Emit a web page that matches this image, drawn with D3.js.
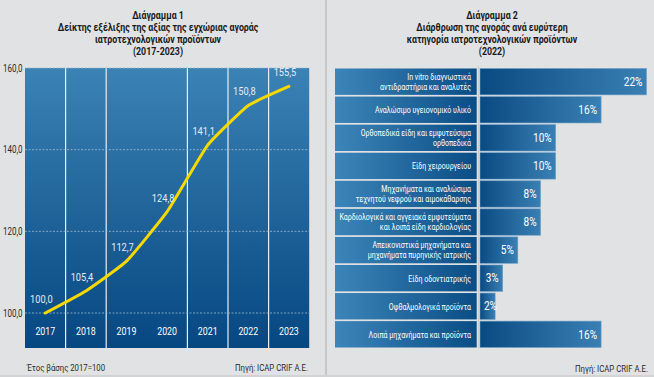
<!DOCTYPE html>
<html>
<head>
<meta charset="utf-8">
<script src="https://cdn.jsdelivr.net/npm/d3@7"></script>
<style>
  body { margin: 0; background: #e1e2e4; }
  svg { display: block; }
  text { font-family: Roboto, "Noto Sans", sans-serif; }
</style>
</head>
<body>
<svg id="chart" width="654" height="377"></svg>
<script>
// chart 1: index of market value (2017=100)
var years = ["2017", "2018", "2019", "2020", "2021", "2022", "2023"];
var indexValues = [100.0, 105.4, 112.7, 124.8, 141.1, 150.8, 155.5];
var yTicks = [100, 120, 140, 160];
// separators between year columns (the one between 2019 and 2020 is absent in the original)
var separatorAfter = ["2017", "2018", "2020", "2021", "2022"];

// chart 2: market breakdown by category (2022)
var categories = [
  ["In vitro διαγνωστικά", "αντιδραστήρια και αναλυτές"],
  ["Αναλώσιμο υγειονομικό υλικό"],
  ["Ορθοπεδικά είδη και εμφυτεύσιμα", "ορθοπεδικά"],
  ["Είδη χειρουργείου"],
  ["Μηχανήματα και αναλώσιμα", "τεχνητού νεφρού και αιμοκάθαρσης"],
  ["Καρδιολογικά και αγγειακά εμφυτεύματα", "και λοιπά είδη καρδιολογίας"],
  ["Απεικονιστικά μηχανήματα και", "μηχανήματα πυρηνικής ιατρικής"],
  ["Είδη οδοντιατρικής"],
  ["Οφθαλμολογικά προϊόντα"],
  ["Λοιπά μηχανήματα και προϊόντα"]
];
var shares = [22, 16, 10, 10, 8, 8, 5, 3, 2, 16];

var title1 = ["Διάγραμμα 1", "Δείκτης εξέλιξης της αξίας της εγχώριας αγοράς", "ιατροτεχνολογικών προϊόντων", "(2017-2023)"];
var title2 = ["Διάγραμμα 2", "Διάρθρωση της αγοράς ανά ευρύτερη", "κατηγορία ιατροτεχνολογικών προϊόντων", "(2022)"];

var svg = d3.select("#chart");
var defs = svg.append("defs");

// the original uses a condensed face; squeeze the text horizontally
function place(sel, fx, fy, sx){
  sel.attr("transform", function(d, i){
    var x = typeof fx === "function" ? fx(d, i) : fx;
    var y = typeof fy === "function" ? fy(d, i) : fy;
    return "translate(" + x + "," + y + ") scale(" + sx + ",1)";
  });
  return sel;
}

function addGradient(id, x2, y2, c1, c2){
  var g = defs.append("linearGradient").attr("id", id)
    .attr("x1", 0).attr("y1", 0).attr("x2", x2).attr("y2", y2);
  g.append("stop").attr("offset", "0%").attr("stop-color", c1);
  g.append("stop").attr("offset", "100%").attr("stop-color", c2);
}
addGradient("plotGrad", 0, 1, "#3b82b5", "#064781");
addGradient("labelGrad", 1, 0, "#3c85b9", "#0a4d85");
addGradient("barGrad", 1, 0, "#0a4a82", "#3a80b4");

// panel divider
svg.append("rect").attr("x", 325).attr("y", 0).attr("width", 2).attr("height", 377).attr("fill", "#c6c7c9");
svg.append("rect").attr("x", 0).attr("y", 375).attr("width", 654).attr("height", 2).attr("fill", "#d2d3d5");

function drawTitle(lines, cx){
  var t = svg.append("g").selectAll("text")
    .data(lines)
    .enter()
    .append("text")
    .attr("dy", ".35em")
    .attr("text-anchor", "middle")
    .attr("font-size", 11)
    .attr("font-weight", "bold")
    .attr("fill", "#1a1a1a")
    .text(String);
  place(t, cx, function(d, i){ return 15 + i * 12.2; }, 0.8);
}
drawTitle(title1, 158);
drawTitle(title2, 492);

// ---------- chart 1 ----------
var x1 = d3.scaleBand().domain(years).range([25, 309.2]).padding(0);
var y1 = d3.scaleLinear().domain([100, 160]).range([313, 68]);
var plotBottom = 348;

svg.append("rect")
  .attr("x", x1.range()[0]).attr("y", y1(160))
  .attr("width", x1.range()[1] - x1.range()[0])
  .attr("height", plotBottom - y1(160))
  .attr("fill", "url(#plotGrad)");

svg.append("g").selectAll("line")
  .data(separatorAfter)
  .enter()
  .append("line")
  .attr("x1", function(d){ return x1(d) + x1.bandwidth(); })
  .attr("x2", function(d){ return x1(d) + x1.bandwidth(); })
  .attr("y1", y1(160)).attr("y2", plotBottom)
  .attr("stroke", "#e8eef4").attr("stroke-width", 1.2);

svg.append("g").selectAll("line")
  .data(yTicks)
  .enter()
  .append("line")
  .attr("x1", x1.range()[0]).attr("x2", x1.range()[1])
  .attr("y1", function(d){ return y1(d); })
  .attr("y2", function(d){ return y1(d); })
  .attr("stroke", "#9ab7d0").attr("stroke-width", 0.8)
  .attr("stroke-dasharray", "2,1.5");

var yLab = svg.append("g").selectAll("text")
  .data(yTicks)
  .enter()
  .append("text")
  .attr("dy", ".35em")
  .attr("text-anchor", "end")
  .attr("font-size", 10)
  .attr("fill", "#2a2a2a")
  .text(function(d){ return d.toFixed(1).replace(".", ","); });
place(yLab, 22.5, function(d){ return y1(d); }, 0.8);

var xLab = svg.append("g").selectAll("text")
  .data(years)
  .enter()
  .append("text")
  .attr("dy", ".35em")
  .attr("text-anchor", "middle")
  .attr("font-size", 11)
  .attr("fill", "#ffffff")
  .text(String);
place(xLab, function(d){ return x1(d) + x1.bandwidth() / 2; }, 331, 0.8);

var line = d3.line()
  .x(function(d, i){ return x1(years[i]) + x1.bandwidth() / 2; })
  .y(function(d){ return y1(d); })
  .curve(d3.curveCardinal.tension(0.6));

svg.append("path")
  .datum(indexValues)
  .attr("d", line)
  .attr("fill", "none")
  .attr("stroke", "#f7d900")
  .attr("stroke-width", 3)
  .attr("stroke-linecap", "round");

var vLab = svg.append("g").selectAll("text")
  .data(indexValues)
  .enter()
  .append("text")
  .attr("dy", ".35em")
  .attr("text-anchor", "middle")
  .attr("font-size", 11)
  .attr("fill", "#e4ecf4")
  .text(function(d){ return d.toFixed(1).replace(".", ","); });
place(vLab, function(d, i){ return x1(years[i]) + x1.bandwidth() / 2 - 4; },
  function(d){ return y1(d) - 14; }, 0.84);

place(svg.append("text")
  .attr("dy", ".35em")
  .attr("font-size", 9.5).attr("fill", "#2a2a2a")
  .text("Έτος βάσης 2017=100"), 27, 368, 0.82);
place(svg.append("text")
  .attr("dy", ".35em")
  .attr("text-anchor", "end")
  .attr("font-size", 9.5).attr("fill", "#2a2a2a")
  .text("Πηγή:  ICAP CRIF A.E."), 308, 368, 0.82);

// ---------- chart 2 ----------
var rowIds = d3.range(categories.length);
var y2 = d3.scaleBand().domain(rowIds).range([68.5, 347.5]).paddingInner(0.06);
var x2 = d3.scaleLinear().domain([0, 22]).range([480, 646.5]);
var labelLeft = 335, labelRight = 476.7;

var rows = svg.append("g").selectAll("g")
  .data(rowIds)
  .enter()
  .append("g");

rows.append("rect")
  .attr("x", labelLeft)
  .attr("y", function(d){ return y2(d); })
  .attr("width", labelRight - labelLeft)
  .attr("height", y2.bandwidth())
  .attr("fill", "url(#labelGrad)");

rows.append("rect")
  .attr("x", x2(0))
  .attr("y", function(d){ return y2(d); })
  .attr("width", function(d){ return x2(shares[d]) - x2(0); })
  .attr("height", y2.bandwidth())
  .attr("fill", "url(#barGrad)")
  .attr("stroke", "#6e9fc6").attr("stroke-width", 0.6);

rows.each(function(d){
  var lines = categories[d];
  var cy = y2(d) + y2.bandwidth() / 2;
  var t = d3.select(this).selectAll(".catLabel")
    .data(lines)
    .enter()
    .append("text")
    .attr("class", "catLabel")
    .attr("dy", ".35em")
    .attr("text-anchor", "end")
    .attr("font-size", 9.5)
    .attr("fill", "#ffffff")
    .text(String);
  place(t, 471, function(s, i){ return cy + (i - (lines.length - 1) / 2) * 10; }, 0.74);
});

place(rows.append("text")
  .attr("dy", ".35em")
  .attr("text-anchor", "end")
  .attr("font-size", 12)
  .attr("fill", "#ffffff")
  .text(function(d){ return shares[d] + "%"; }),
  function(d){ return Math.max(x2(shares[d]) - 4, x2(0) + 17); },
  function(d){ return y2(d) + y2.bandwidth() / 2; }, 0.84);

// light separator between label column and bars
svg.append("line")
  .attr("x1", 478.3).attr("x2", 478.3)
  .attr("y1", 66).attr("y2", 348)
  .attr("stroke", "#c9ccd0").attr("stroke-width", 1);

place(svg.append("text")
  .attr("dy", ".35em")
  .attr("text-anchor", "end")
  .attr("font-size", 9.5).attr("fill", "#2a2a2a")
  .text("Πηγή:  ICAP CRIF A.E."), 648, 369, 0.82);
</script>
</body>
</html>
